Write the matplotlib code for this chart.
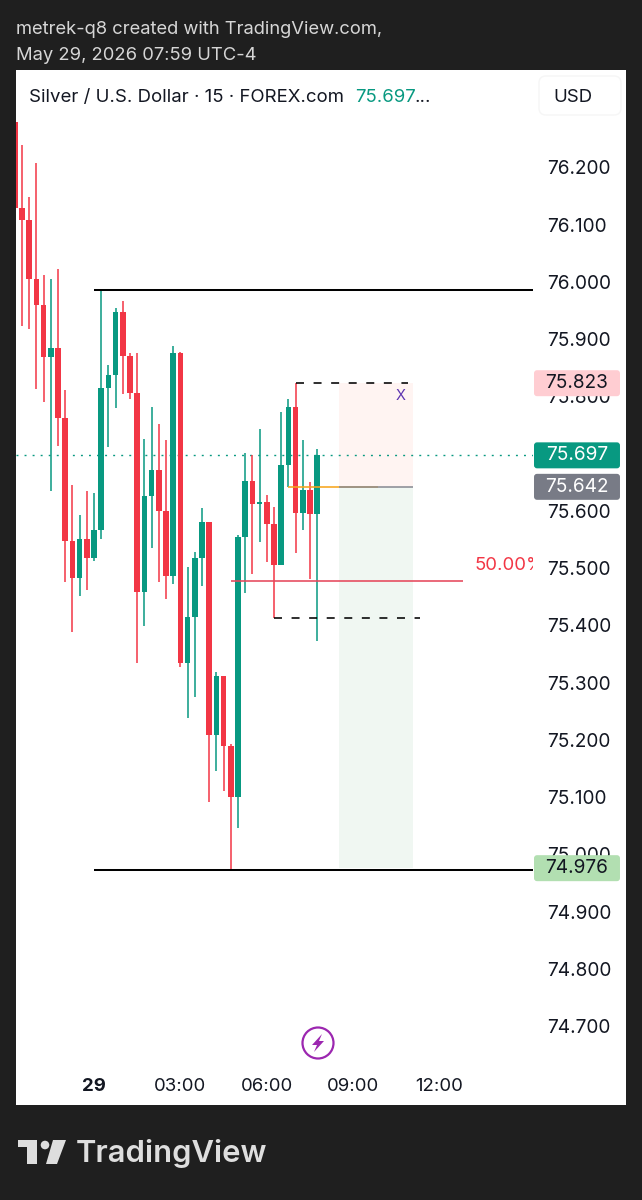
import matplotlib
matplotlib.use('Agg')
import matplotlib.pyplot as plt
import numpy as np
from matplotlib.patches import Rectangle, FancyBboxPatch, Circle, Polygon

plt.rcParams['font.family'] = ['Inter', 'DejaVu Sans']

# 15 min bars, bar 0 is the 00:00 candle of the 29th
bars = np.arange(-11, 32)
opens = [76.279, 76.129, 76.108, 76.005, 75.960, 75.868, 75.885, 75.762, 75.548, 75.482, 75.551,
         75.518, 75.567, 75.814, 75.838, 75.948, 75.870, 75.806, 75.459, 75.626, 75.672, 75.600,
         75.487, 75.875, 75.335, 75.415, 75.517, 75.581, 75.209, 75.312, 75.190, 75.101, 75.554,
         75.653, 75.612, 75.616, 75.577, 75.506, 75.680, 75.781, 75.597, 75.637, 75.594]
highs = [76.279, 76.239, 76.149, 76.208, 76.012, 76.005, 76.023, 75.811, 75.645, 75.593, 75.634,
         75.631, 75.986, 75.854, 75.955, 75.967, 75.875, 75.875, 75.726, 75.782, 75.752, 75.724,
         75.888, 75.878, 75.502, 75.529, 75.605, 75.581, 75.318, 75.312, 75.192, 75.558, 75.701,
         75.698, 75.743, 75.627, 75.606, 75.772, 75.796, 75.823, 75.723, 75.651, 75.708]
lows = [76.129, 75.923, 75.918, 75.813, 75.790, 75.634, 75.714, 75.475, 75.389, 75.452, 75.462,
        75.513, 75.551, 75.712, 75.779, 75.804, 75.795, 75.334, 75.399, 75.535, 75.475, 75.446,
        75.473, 75.327, 75.239, 75.275, 75.468, 75.092, 75.145, 75.110, 74.973, 75.046, 75.457,
        75.490, 75.545, 75.510, 75.413, 75.505, 75.642, 75.527, 75.566, 75.481, 75.373]
closes = [76.129, 76.108, 76.005, 75.960, 75.868, 75.885, 75.762, 75.548, 75.482, 75.551, 75.518,
          75.567, 75.814, 75.838, 75.948, 75.870, 75.806, 75.459, 75.626, 75.672, 75.600, 75.487,
          75.875, 75.335, 75.415, 75.517, 75.581, 75.209, 75.312, 75.190, 75.101, 75.554, 75.653,
          75.612, 75.616, 75.577, 75.506, 75.680, 75.781, 75.597, 75.637, 75.594, 75.697]

price_ticks = [76.2, 76.1, 76.0, 75.9, 75.8, 75.7, 75.6, 75.5, 75.4, 75.3, 75.2, 75.1, 75.0, 74.9, 74.8, 74.7]
time_ticks = [0, 12, 24, 36, 48]
time_labels = ['29', '03:00', '06:00', '09:00', '12:00']

upper_level = 75.986
lower_level = 74.973
last_price = 75.697
stop_price = 75.823
entry_price = 75.642
target_price = 74.976
range_low = 75.413
mid_price = 75.478

UP = '#089981'
DOWN = '#f23645'
DARK = '#131722'
BG = '#1f1f1f'

fig = plt.figure(figsize=(6.42, 12), dpi=100, facecolor=BG)

# page furniture in pixel coordinates
page = fig.add_axes([0, 0, 1, 1], zorder=0)
page.set_xlim(0, 642)
page.set_ylim(1200, 0)
page.axis('off')
page.add_patch(Rectangle((16, 70), 610, 1035, fc='white', ec='none'))
page.add_patch(FancyBboxPatch((539, 76), 82, 39, boxstyle='round,pad=0,rounding_size=7', fc='white', ec='#f6f6f6', lw=1))

page.text(16, 30, 'metrek-q8 created with TradingView.com,', color='#d6d6d6', fontsize=13.25, va='center')
page.text(16, 55, 'May 29, 2026 07:59 UTC-4', color='#d6d6d6', fontsize=13.25, va='center')
page.text(29, 97, 'Silver / U.S. Dollar · 15 · FOREX.com', color=DARK, fontsize=13.4, va='center')
page.text(355, 97, '75.697', color=UP, fontsize=13.4, va='center')
page.text(415, 97, '...', color=DARK, fontsize=13.4, va='center')
page.text(573, 97, 'USD', color=DARK, fontsize=13.4, va='center', ha='center')

# lightning badge
page.add_patch(Circle((318, 1043), 15.5, fc='white', ec='#9c27b0', lw=1.6))
page.add_patch(Polygon([(322, 1034), (312, 1045), (317, 1045), (314, 1052), (324, 1041), (319, 1041)], fc='#9c27b0', ec='none'))

# footer logo
LOGO = '#dedede'
page.add_patch(Polygon([(18, 1140), (37, 1140), (37, 1164), (27, 1164), (27, 1147), (18, 1147)], fc=LOGO, ec='none'))
page.add_patch(Circle((45, 1145), 4.3, fc=LOGO, ec='none'))
page.add_patch(Polygon([(53, 1140), (66, 1140), (57, 1164), (46, 1164)], fc=LOGO, ec='none'))
page.text(76, 1153, 'TradingView', color=LOGO, fontsize=22.3, fontweight='semibold', va='center')

# price pane
ax = fig.add_axes([16 / 642, (1200 - 1068) / 1200, (533 - 16) / 642, (1068 - 70) / 1200], zorder=1)
ax.patch.set_visible(False)
for s in ax.spines.values():
    s.set_visible(False)
ax.set_xlim(-10.833, 60.97)
ax.set_ylim(74.627, 76.370)

# trade zones behind the candles
ax.add_patch(Rectangle((34, entry_price), 10.3, stop_price - entry_price, fc='#fff4f2', ec='none', zorder=0))
ax.add_patch(Rectangle((34, target_price), 10.3, entry_price - target_price, fc='#f0f7f2', ec='none', zorder=0))

# candles
opens = np.array(opens)
closes = np.array(closes)
colors = [UP if c >= o else DOWN for o, c in zip(opens, closes)]
ax.vlines(bars, lows, highs, colors=colors, lw=1.1, zorder=2)
ax.bar(bars, np.abs(closes - opens), bottom=np.minimum(opens, closes), width=0.8, color=colors, zorder=2.2)

# levels and drawings
ax.axhline(last_price, color=UP, lw=1, ls=(0, (1.4, 4.4)), zorder=1)
ax.hlines([upper_level, lower_level], 0, 61, color='black', lw=1.45, zorder=3)
ax.hlines(stop_price, 28, 43.6, color='black', lw=1.15, ls=(0, (5, 6)), zorder=3)
ax.hlines(range_low, 25, 45.3, color='black', lw=1.15, ls=(0, (5, 6)), zorder=3)
ax.hlines(mid_price, 19, 51.25, color='#e5475b', lw=1.15, zorder=3)
ax.hlines(entry_price, 27, 39.4, color='#f7a51d', lw=1.15, zorder=3)
ax.hlines(entry_price, 34, 44.3, color='#8a8c94', lw=1.15, zorder=3.1)
ax.text(52.9, 75.505, '50.00%', color=DOWN, fontsize=13.4, va='center', clip_on=True)
ax.text(42.6, 75.800, 'X', color='#5e35b1', fontsize=10.5, va='center', ha='center')

# axes on the right and the bottom
ax.yaxis.tick_right()
ax.set_yticks(price_ticks)
ax.set_yticklabels(['%.3f' % p for p in price_ticks])
ax.set_xticks(time_ticks)
ax.set_xticklabels(time_labels)
ax.tick_params(axis='y', length=0, labelsize=13.7, labelcolor=DARK, pad=10)
ax.tick_params(axis='x', length=0, labelsize=13.4, labelcolor=DARK, pad=7)
ax.get_xticklabels()[0].set_fontweight('bold')

# price tags sit over the scale labels
tags = [(stop_price, '#ffcdd2', DARK), (last_price, UP, 'white'), (entry_price, '#787b86', 'white'), (target_price, '#b2dfb1', DARK)]
for price, fc, tc in tags:
    ax.add_patch(FancyBboxPatch((61.11, price - 0.0227), 11.94, 0.0454, boxstyle='round,pad=0,rounding_size=0.42',
                                mutation_aspect=0.01258, fc=fc, ec='none', clip_on=False, zorder=5))
    ax.text(67.08, price, '%.3f' % price, color=tc, fontsize=13.7, ha='center', va='center', clip_on=False, zorder=6)

fig.savefig('out.png', dpi=100, facecolor=BG)
